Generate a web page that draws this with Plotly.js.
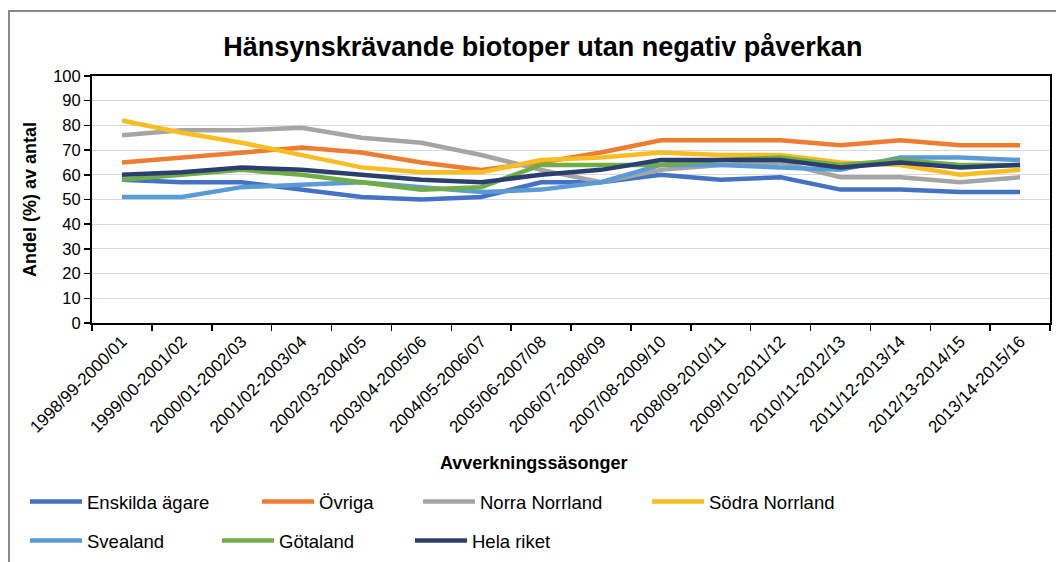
<!DOCTYPE html>
<html>
<head>
<meta charset="utf-8">
<script src="https://cdn.plot.ly/plotly-3.0.1.min.js"></script>
<style>
html,body{margin:0;padding:0;background:#fff;}
#wrap{position:relative;width:1056px;height:562px;}
#chart{position:absolute;left:0;top:0;width:1056px;height:562px;}
#frame{position:absolute;left:8px;top:10px;width:1060px;height:600px;border-left:2px solid #8a8a8a;border-top:2px solid #8a8a8a;pointer-events:none;}
</style>
</head>
<body>
<div id="wrap"><div id="chart"></div><div id="frame"></div></div>
<script>
const seasons = ["1998/99-2000/01","1999/00-2001/02","2000/01-2002/03","2001/02-2003/04","2002/03-2004/05","2003/04-2005/06","2004/05-2006/07","2005/06-2007/08","2006/07-2008/09","2007/08-2009/10","2008/09-2010/11","2009/10-2011/12","2010/11-2012/13","2011/12-2013/14","2012/13-2014/15","2013/14-2015/16"];
const seriesNames = ["Enskilda ägare","Övriga","Norra Norrland","Södra Norrland","Svealand","Götaland","Hela riket"];
const enskilda = [58,57,57,54,51,50,51,57,57,60,58,59,54,54,53,53];
const ovriga = [65,67,69,71,69,65,62,65,69,74,74,74,72,74,72,72];
const norraNorrland = [76,78,78,79,75,73,68,62,57,62,64,65,59,59,57,59];
const sodraNorrland = [82,77,73,68,63,61,61,66,67,69,68,68,65,64,60,62];
const svealand = [51,51,55,56,57,55,53,54,57,64,64,63,62,67,67,66];
const gotaland = [58,60,62,60,57,54,55,64,64,64,66,67,64,66,64,64];
const helaRiket = [60,61,63,62,60,58,57,60,62,66,66,66,63,65,63,64];

const values = [enskilda, ovriga, norraNorrland, sodraNorrland, svealand, gotaland, helaRiket];
const colors = ["#4472C4","#ED7D31","#A5A5A5","#F9BD24","#5B9BD5","#70AD47","#2B3F6E"];
const legendIds = ["legend","legend2","legend3","legend4","legend5","legend6","legend7"];
// legend item pixel positions (left of line sample, row centre)
const legendPos = [[30,502],[262,502],[423,502],[652,502],[30,541],[222,541],[415,541]];

const L = 92, R = 6, T = 76, B = 239;
const W = 1056 - L - R, H = 562 - T - B;

const traces = values.map((v, i) => ({
  type: "scatter", mode: "lines", x: seasons, y: v, name: seriesNames[i],
  line: {color: colors[i], width: 4.5}, legend: legendIds[i]
}));

const layout = {
  width: 1056, height: 562,
  margin: {l: L, r: R, t: T, b: B, autoexpand: false},
  paper_bgcolor: "rgba(0,0,0,0)", plot_bgcolor: "#fff",
  font: {family: "Liberation Sans, Arial, sans-serif", color: "#000"},
  title: {text: "<b>Hänsynskrävande biotoper utan negativ påverkan</b>", font: {size: 27, color: "#000"},
          x: 0.514, xanchor: "center", y: 1 - 47/562, yanchor: "middle"},
  xaxis: {type: "category", range: [-0.5, 15.5], tickson: "boundaries", ticks: "outside", ticklen: 6,
          tickcolor: "#000", tickwidth: 1.5, showline: true, linecolor: "#000", linewidth: 2, mirror: true,
          showgrid: false, tickangle: -45, tickfont: {size: 17}, automargin: false},
  yaxis: {range: [0, 100], dtick: 10, ticks: "outside", ticklen: 6, tickcolor: "#000", tickwidth: 1.5,
          showline: true, linecolor: "#000", linewidth: 2, mirror: true, gridcolor: "#d9d9d9", gridwidth: 1,
          tickfont: {size: 16.5}, automargin: false, zeroline: false,
          title: {text: "<b>Andel (%) av antal</b>", font: {size: 18}, standoff: 12}},
  annotations: [{text: "<b>Avverkningssäsonger</b>", xref: "paper", yref: "paper",
                 x: (533 - L) / W, y: (T + H - 463) / H, xanchor: "center", yanchor: "middle",
                 showarrow: false, font: {size: 18, color: "#000"}}],
  showlegend: true
};
legendIds.forEach((id, i) => {
  layout[id] = {x: (legendPos[i][0] - L - 5) / W, y: (T + H - legendPos[i][1]) / H, xanchor: "left", yanchor: "middle",
                orientation: "h", bgcolor: "rgba(0,0,0,0)", font: {size: 18.5}, itemwidth: 52, borderwidth: 0};
});
Plotly.newPlot("chart", traces, layout, {displayModeBar: false, staticPlot: true});
</script>
</body>
</html>
